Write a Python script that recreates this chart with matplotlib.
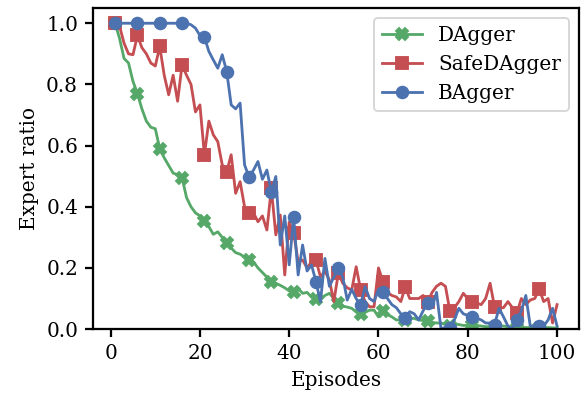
import matplotlib
matplotlib.use("Agg")
import matplotlib.pyplot as plt
import numpy as np

episodes = list(range(1, 101))

dagger = [1.00, 0.95, 0.885, 0.87, 0.81, 0.77, 0.72, 0.68, 0.66, 0.655,
          0.59, 0.56, 0.535, 0.51, 0.505, 0.495, 0.43, 0.40, 0.38, 0.37,
          0.355, 0.335, 0.31, 0.318, 0.30, 0.28, 0.265, 0.25, 0.245, 0.235,
          0.225, 0.22, 0.20, 0.185, 0.17, 0.155, 0.15, 0.143, 0.135, 0.125,
          0.12, 0.133, 0.117, 0.12, 0.105, 0.10, 0.095, 0.11, 0.117, 0.10,
          0.085, 0.075, 0.072, 0.068, 0.056, 0.048, 0.055, 0.062, 0.062, 0.04,
          0.06, 0.048, 0.04, 0.03, 0.03, 0.03, 0.035, 0.035, 0.03, 0.028,
          0.025, 0.022, 0.02, 0.02, 0.015, 0.01, 0.015, 0.015, 0.012, 0.012,
          0.015, 0.012, 0.01, 0.008, 0.008, 0.008, 0.01, 0.01, 0.008, 0.005,
          0.005, 0.006, 0.005, 0.005, 0.005, 0.005, 0.005, 0.005, 0.004, 0.003]

safedagger = [1.00, 0.99, 0.935, 0.90, 0.897, 0.96, 0.92, 0.90, 0.87, 0.86,
              0.924, 0.83, 0.766, 0.83, 0.745, 0.864, 0.83, 0.80, 0.71, 0.733,
              0.57, 0.68, 0.635, 0.613, 0.537, 0.515, 0.57, 0.444, 0.482, 0.40,
              0.379, 0.38, 0.351, 0.37, 0.324, 0.46, 0.308, 0.373, 0.177, 0.35,
              0.315, 0.22, 0.226, 0.20, 0.22, 0.225, 0.171, 0.19, 0.16, 0.09,
              0.183, 0.15, 0.135, 0.128, 0.204, 0.128, 0.09, 0.073, 0.073, 0.20,
              0.155, 0.12, 0.11, 0.105, 0.09, 0.137, 0.10, 0.10, 0.10, 0.11,
              0.088, 0.12, 0.14, 0.15, 0.14, 0.059, 0.07, 0.09, 0.117, 0.10,
              0.088, 0.085, 0.08, 0.10, 0.15, 0.072, 0.07, 0.07, 0.09, 0.07,
              0.052, 0.10, 0.08, 0.095, 0.10, 0.131, 0.09, 0.10, 0.02, 0.08]

bagger = [1.00, 1.00, 1.00, 1.00, 1.00, 1.00, 1.00, 1.00, 1.00, 1.00,
          1.00, 1.00, 1.00, 1.00, 1.00, 1.00, 1.00, 0.995, 0.984, 0.96,
          0.955, 0.908, 0.88, 0.853, 0.897, 0.842, 0.733, 0.72, 0.739, 0.537,
          0.497, 0.52, 0.548, 0.49, 0.52, 0.448, 0.499, 0.275, 0.37, 0.21,
          0.365, 0.177, 0.275, 0.19, 0.21, 0.155, 0.089, 0.231, 0.14, 0.17,
          0.20, 0.17, 0.095, 0.13, 0.10, 0.079, 0.139, 0.10, 0.09, 0.13,
          0.121, 0.10, 0.08, 0.07, 0.05, 0.037, 0.057, 0.05, 0.03, 0.06,
          0.085, 0.07, 0.12, 0.002, 0.005, 0.005, 0.03, 0.068, 0.05, 0.045,
          0.04, 0.035, 0.03, 0.02, 0.02, 0.015, 0.068, 0.04, 0.01, 0.003,
          0.03, 0.06, 0.11, 0.01, 0.01, 0.01, 0.01, 0.03, 0.068, 0.01]

series_names = ["DAgger", "SafeDAgger", "BAgger"]
series_colors = ["#55A868", "#C44E52", "#4C72B0"]
series_markers = ["X", "s", "o"]

plt.rcParams["font.family"] = ["DejaVu Serif"]
plt.rcParams["font.size"] = 10.7

fig = plt.figure(figsize=(585 / 135, 397 / 135), dpi=135)
ax = fig.add_axes([0.159, 0.171, 0.831, 0.809])

for name, vals, col, mk in zip(series_names, [dagger, safedagger, bagger],
                               series_colors, series_markers):
    ax.plot(episodes, vals, color=col, marker=mk, markevery=5, markersize=6.2,
            linewidth=1.5, label=name)

ax.set_ylim(0, 1.05)
ax.set_xticks([0, 20, 40, 60, 80, 100])
ax.set_yticks([0.0, 0.2, 0.4, 0.6, 0.8, 1.0])
ax.set_xlabel("Episodes")
ax.set_ylabel("Expert ratio")
for s in ax.spines.values():
    s.set_linewidth(1.2)
ax.tick_params(direction="out", length=4.5, width=1.2)
ax.legend(loc="upper right")

fig.savefig("out.png", dpi=135)
